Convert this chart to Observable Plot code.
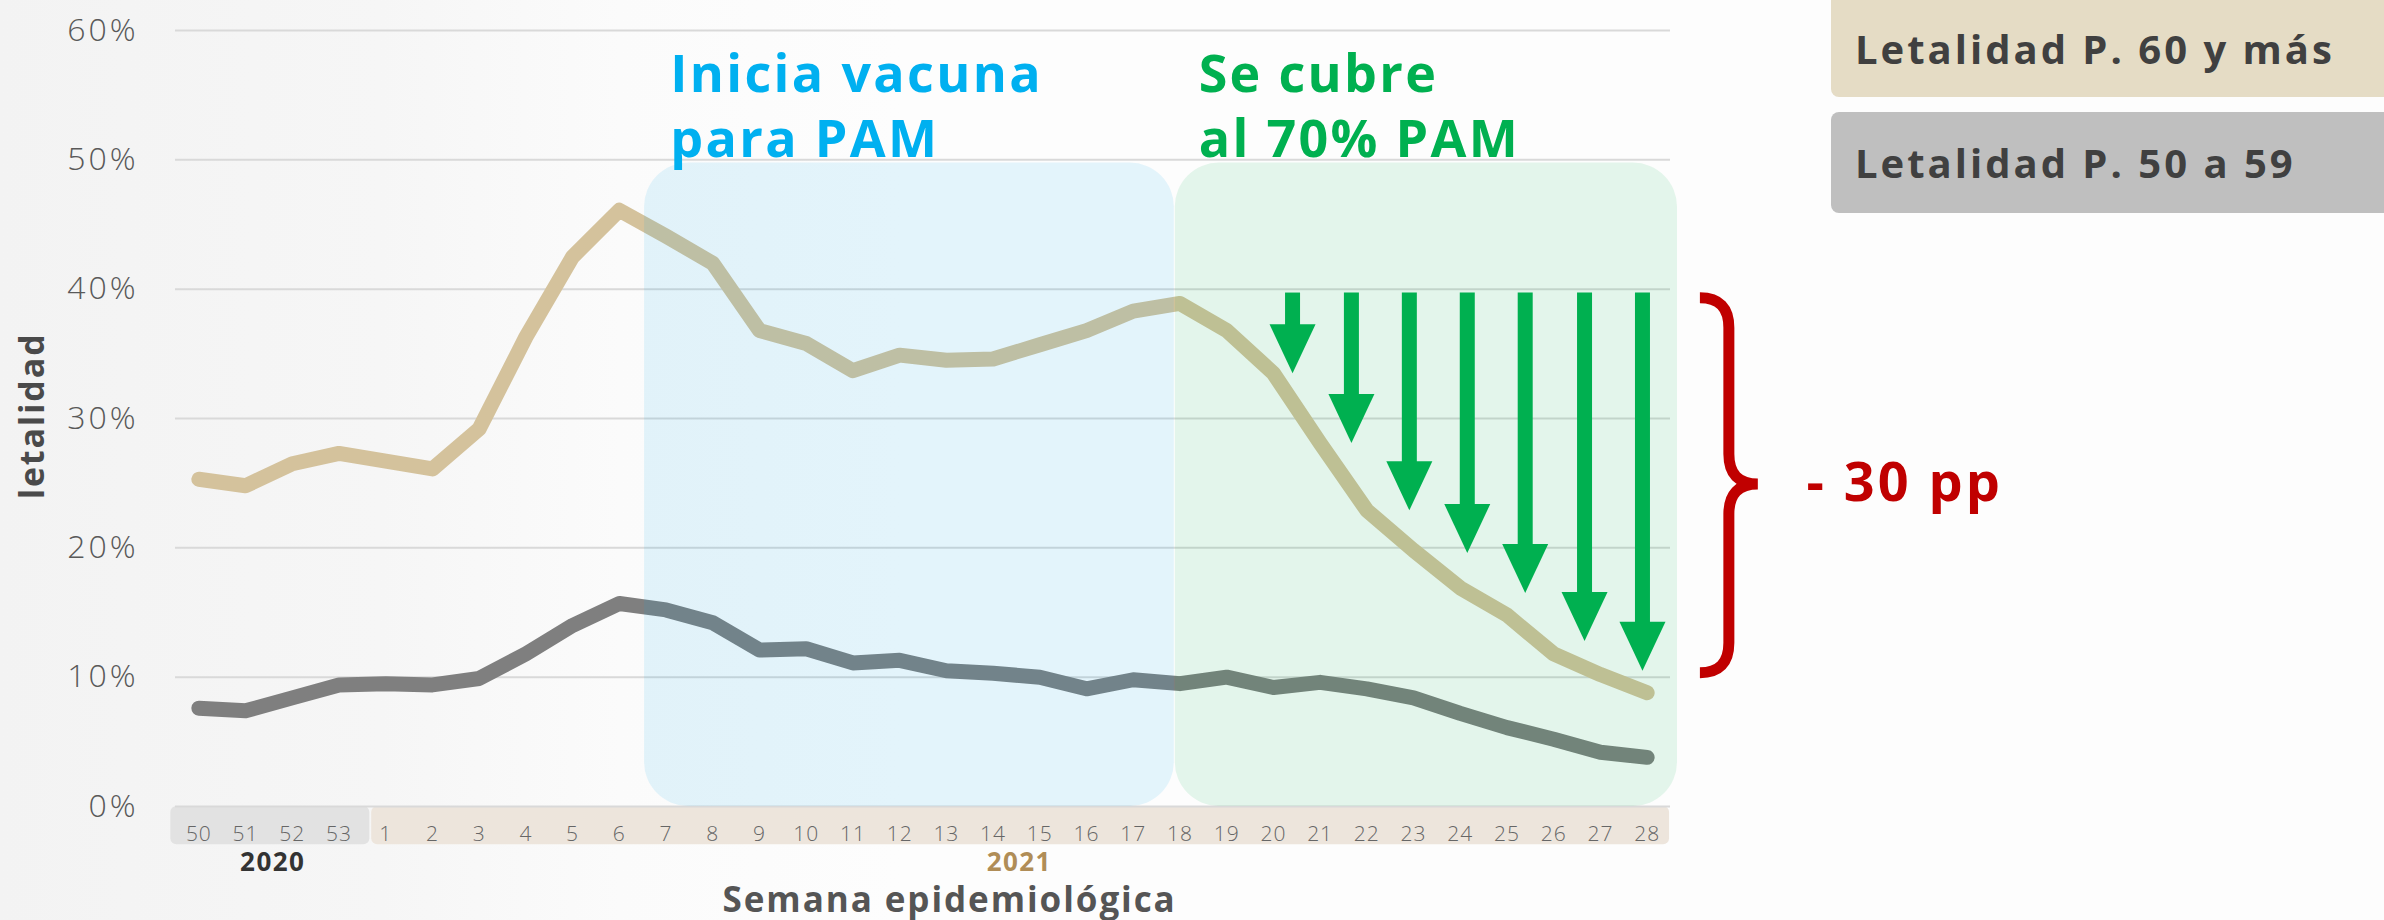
<!DOCTYPE html>
<html>
<head>
<meta charset="utf-8">
<script src="https://cdn.jsdelivr.net/npm/d3@7"></script>
<script src="https://cdn.jsdelivr.net/npm/@observablehq/plot@0.6"></script>
<style>
  html, body { margin: 0; padding: 0; }
  body {
    width: 2384px; height: 920px; overflow: hidden; position: relative;
    background: linear-gradient(90deg, #f3f3f3 0px, #f6f6f6 380px, #fbfbfb 620px, #fdfdfd 900px, #fdfdfd 100%);
    font-family: "Open Sans", "Noto Sans", sans-serif;
  }
  #chart { position: absolute; left: 0; top: 0; }
  #chart g[font-weight="700"] text { letter-spacing: 0.055em; }
  #chart g[font-size="52"] text { letter-spacing: 0.045em; }
  #chart g[aria-label="y-axis tick label"] text { letter-spacing: 3px; }
  #chart g[aria-label="x-axis tick label"] text { letter-spacing: 1px; }
  .legend {
    position: absolute; left: 1831px; width: 600px; border-radius: 8px;
    display: flex; align-items: center; box-sizing: border-box; padding-left: 24px;
    font-weight: 700; font-size: 40px; color: #404040; letter-spacing: 3px;
  }
</style>
</head>
<body>
<div id="chart"></div>
<div class="legend" style="top:-10px;height:107px;background:#e5dcc5;padding-top:10px;">Letalidad P. 60 y más</div>
<div class="legend" style="top:112px;height:101px;background:#bfbfbf;">Letalidad P. 50 a 59</div>
<script>
// ---- data ----
const weeks = ["50","51","52","53","1","2","3","4","5","6","7","8","9","10","11","12","13","14","15","16","17","18","19","20","21","22","23","24","25","26","27","28"];
const years = ["2020", "2021"];
const p60 = [25.3, 24.8, 26.5, 27.3, 26.7, 26.1, 29.2, 36.3, 42.5, 46.1, 44.1, 42.0, 36.8, 35.8, 33.7, 34.9, 34.5, 34.6, 35.7, 36.8, 38.3, 38.9, 36.8, 33.5, 28.1, 22.9, 19.8, 16.9, 14.8, 11.8, 10.2, 8.8];
const p50 = [7.6, 7.4, 8.4, 9.4, 9.5, 9.4, 9.9, 11.8, 14.0, 15.7, 15.2, 14.2, 12.1, 12.2, 11.1, 11.3, 10.5, 10.3, 10.0, 9.1, 9.8, 9.5, 10.0, 9.2, 9.6, 9.1, 8.4, 7.2, 6.1, 5.2, 4.2, 3.8];
const yTicks = [0, 10, 20, 30, 40, 50, 60];
const phaseLabels = ["Inicia vacuna\npara PAM", "Se cubre\nal 70% PAM"];
const phaseStart = [9.54, 20.9];
const phaseEnd = [20.88, 31.65];
const phaseTop = 49.75;
const arrowX = [23.41, 24.67, 25.91, 27.15, 28.39, 29.66, 30.90];
const arrowTip = [33.5, 28.1, 22.9, 19.6, 16.5, 12.8, 10.5];
const arrowTop = 39.7;
const dropLabel = "- 30 pp";
const braceTop = 39.3, braceMid = 24.9, braceBottom = 10.3;

// ---- derived tables ----
const rows60 = p60.map((v, i) => ({i, v}));
const rows50 = p50.map((v, i) => ({i, v}));
const bands = [
  {x1: -0.6, x2: 3.66, fill: "#e2e2e2"},
  {x1: 3.70, x2: 31.48, fill: "#ede5dc"}
];
const phases = [
  {x1: phaseStart[0], x2: phaseEnd[0], fill: "#00a8f0"},
  {x1: phaseStart[1], x2: phaseEnd[1], fill: "#00b050"}
];
const arrows = arrowX.map((x, k) => ({x, tip: arrowTip[k]}));
const headDown = {
  draw(ctx) {
    ctx.moveTo(-23, -49);
    ctx.lineTo(23, -49);
    ctx.lineTo(0, 0);
    ctx.closePath();
  }
};

const chart = Plot.plot({
  width: 2384,
  height: 920,
  marginLeft: 175,
  marginRight: 714,
  marginTop: 30,
  marginBottom: 114,
  x: {domain: [-0.5, 31.5]},
  y: {domain: [0, 60]},
  style: {background: "transparent", fontFamily: "'Open Sans', 'Noto Sans', sans-serif", overflow: "visible"},
  marks: [
    Plot.rect(bands, {x1: "x1", x2: "x2", y1: 0, y2: -2.95, fill: "fill", rx: 6}),
    Plot.gridY({ticks: yTicks, stroke: "#d9d9d9", strokeOpacity: 1, strokeWidth: 2}),
    Plot.axisY({ticks: yTicks, tickFormat: d => d + "%", tickSize: 0, tickPadding: 37, fontSize: 32, fontWeight: 300, color: "#595959", label: null}),
    Plot.axisX({ticks: d3.range(weeks.length), tickFormat: i => weeks[i], tickSize: 0, tickPadding: 20, fontSize: 21, fontWeight: 300, color: "#666666", label: null}),
    Plot.line(rows60, {x: "i", y: "v", stroke: "#d4c29c", strokeWidth: 15, strokeLinecap: "round", strokeLinejoin: "round"}),
    Plot.line(rows50, {x: "i", y: "v", stroke: "#7f7f7f", strokeWidth: 15, strokeLinecap: "round", strokeLinejoin: "round"}),
    Plot.rect(phases, {x1: "x1", x2: "x2", y1: 0, y2: phaseTop, fill: "fill", fillOpacity: 0.1, rx: 44}),
    Plot.ruleX(arrows, {x: "x", y1: arrowTop, y2: d => d.tip + 3.6, stroke: "#00b050", strokeWidth: 15}),
    Plot.dot(arrows, {x: "x", y: "tip", symbol: headDown, fill: "#00b050", stroke: null}),
    Plot.text([phaseLabels[0]], {x: 10.09, y: 58.85, text: d => d, textAnchor: "start", lineAnchor: "top", fontSize: 52, fontWeight: 700, fill: "#00b0f0", lineHeight: 1.25}),
    Plot.text([phaseLabels[1]], {x: 21.4, y: 58.85, text: d => d, textAnchor: "start", lineAnchor: "top", fontSize: 52, fontWeight: 700, fill: "#00b050", lineHeight: 1.25}),
    Plot.text([years[0]], {x: 1.58, y: -4.35, text: d => d, fontSize: 26, fontWeight: 700, fill: "#333333"}),
    Plot.text([years[1]], {x: 17.56, y: -4.35, text: d => d, fontSize: 26, fontWeight: 700, fill: "#b08d57"}),
    Plot.text(["Semana epidemiológica"], {x: 16.07, y: -7.31, text: d => d, fontSize: 35, fontWeight: 700, fill: "#555555"}),
    Plot.text(["letalidad"], {x: -3.55, y: 30.2, text: d => d, rotate: -90, fontSize: 34, fontWeight: 700, fill: "#4a4a4a"}),
    Plot.text([dropLabel], {x: 34.41, y: 24.94, text: d => d, textAnchor: "start", fontSize: 54, fontWeight: 700, fill: "#c00000"})
  ]
});

// red brace drawn with the chart's own scales
const sx = chart.scale("x"), sy = chart.scale("y");
const xL = sx.apply(32.14), xS = sx.apply(32.76), xR = sx.apply(33.38);
const yT = sy.apply(braceTop), yM = sy.apply(braceMid), yB = sy.apply(braceBottom);
const r = 30;
const p = d3.path();
p.moveTo(xL, yT);
p.quadraticCurveTo(xS, yT, xS, yT + r);
p.lineTo(xS, yM - r);
p.quadraticCurveTo(xS, yM, xR, yM);
p.quadraticCurveTo(xS, yM, xS, yM + r);
p.lineTo(xS, yB - r);
p.quadraticCurveTo(xS, yB, xL, yB);
d3.select(chart).append("path")
  .attr("d", p.toString())
  .attr("fill", "none")
  .attr("stroke", "#c00000")
  .attr("stroke-width", 11);

document.getElementById("chart").appendChild(chart);
</script>
</body>
</html>
